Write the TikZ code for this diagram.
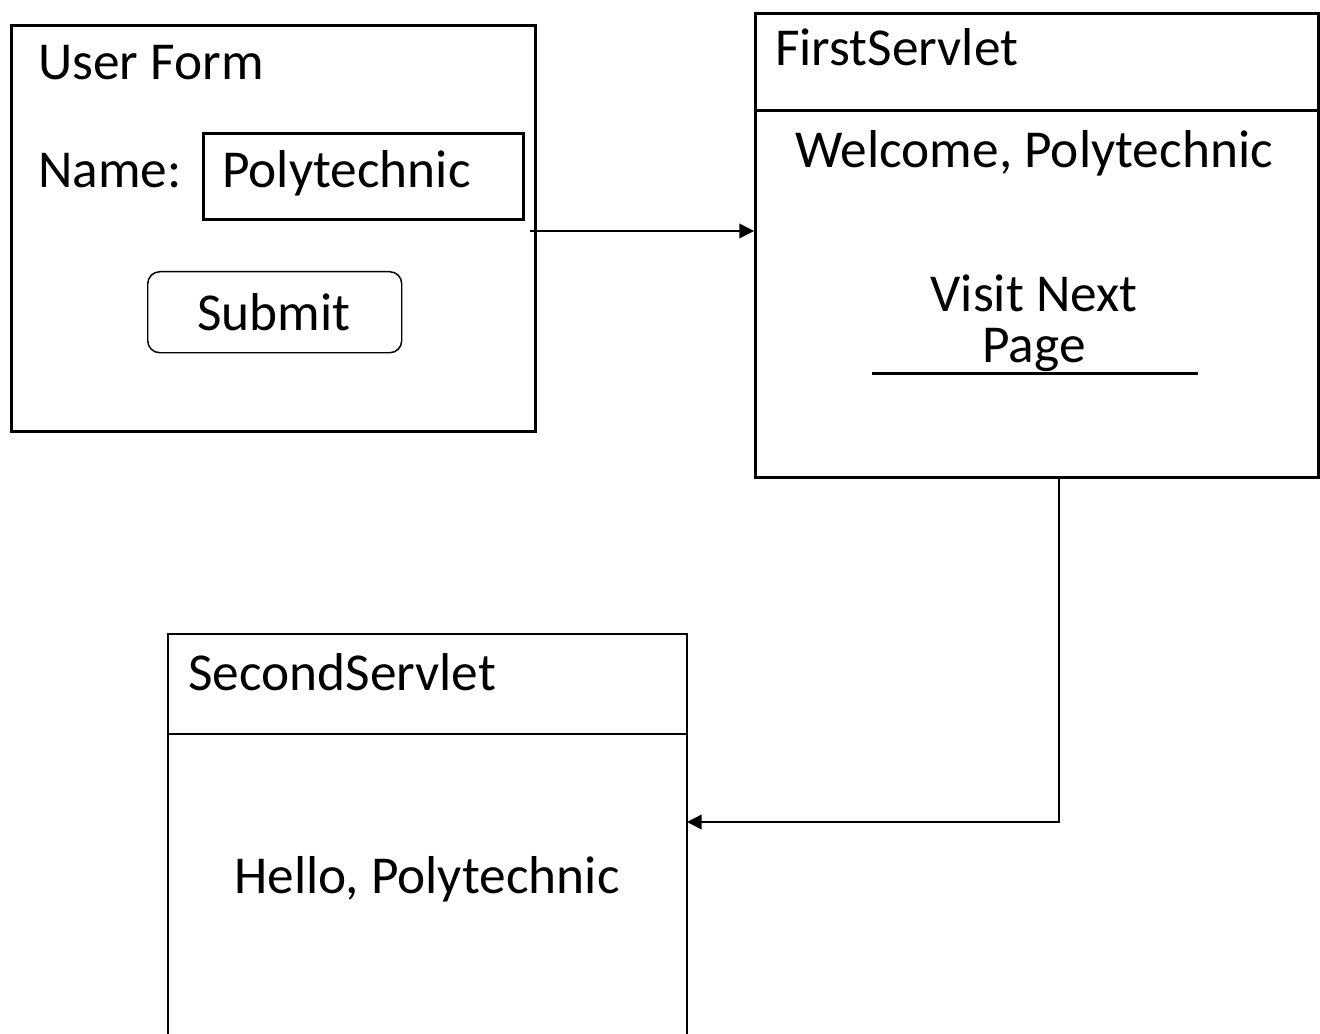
\documentclass[tikz,border=0pt]{standalone}
\usepackage{fontspec}
\setmainfont{Carlito}
\usetikzlibrary{arrows.meta}
\begin{document}
\begin{tikzpicture}[x=0.75pt,y=-0.75pt,
  thick box/.style={draw,line width=2.25pt,inner sep=0pt},
  thin line/.style={line width=1.1pt},
  lbl/.style={inner sep=0pt,font=\fontsize{40}{45}\selectfont},
  conn/.style={line width=1.1pt,-{Triangle[length=11pt,width=11pt]}}]
\useasboundingbox (0,0) rectangle (1320,1034);
% User form
\node[thick box,anchor=north west,minimum width=524*0.75pt,minimum height=406*0.75pt] (form) at (10,24) {};
\node[lbl,anchor=base west] (formtitle) at (38,80) {User Form};
\node[lbl,anchor=base west] (namelbl) at (38,188) {Name:};
\node[thick box,anchor=north west,minimum width=320*0.75pt,minimum height=86*0.75pt] (namebox) at (202,132) {};
\node[lbl,anchor=base west] (nameval) at (222,188) {Polytechnic};
\node[draw,thin line,rounded corners=9pt,anchor=north west,minimum width=254*0.75pt,minimum height=81*0.75pt,inner sep=0pt] (submit) at (147,271) {};
\node[lbl,anchor=base] (submittxt) at (274,330) {Submit};
% First servlet
\node[thick box,anchor=north west,minimum width=563*0.75pt,minimum height=464*0.75pt] (first) at (754,12) {};
\draw[line width=2.25pt] (first.west |- 0,111) -- (first.east |- 0,111);
\node[lbl,anchor=base west] (firsttitle) at (775,66) {FirstServlet};
\node[lbl,anchor=base] (welcome) at (1034,168) {Welcome, Polytechnic};
\node[lbl,anchor=base] (visit1) at (1034,311) {Visit Next};
\node[lbl,anchor=base] (visit2) at (1034,362) {Page};
\draw[line width=2.25pt] (872,373) -- (1198,373);
% Second servlet (open at the bottom)
\draw[thin line] (168,1045) -- (168,634) -- (687,634) -- (687,1045);
\draw[thin line] (168,734) -- (687,734);
\node[lbl,anchor=base west] (secondtitle) at (188,690) {SecondServlet};
\node[lbl,anchor=base] (hello) at (427,893) {Hello, Polytechnic};
\coordinate (second) at (687,822);
\coordinate (formout) at (530,231);
% connectors
\draw[conn] (formout) -- (first.west |- formout);
\draw[conn] (first.south -| 1059,0) -- (1059,822) -- (second);
\end{tikzpicture}
\end{document}
